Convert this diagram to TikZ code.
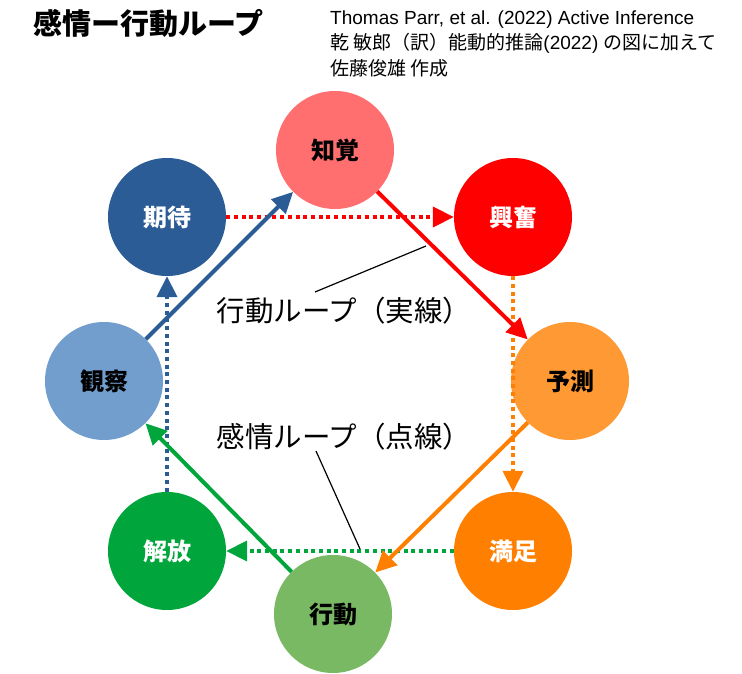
\documentclass[tikz,border=0pt]{standalone}
\usepackage{fontspec}
\setmainfont{Liberation Sans}
\newfontfamily\jp{Noto Sans CJK JP}
\usetikzlibrary{arrows.meta}
\definecolor{cChikaku}{HTML}{FF6F6F}
\definecolor{cKofun}{HTML}{FF0000}
\definecolor{cYosoku}{HTML}{FF9933}
\definecolor{cManzoku}{HTML}{FF8000}
\definecolor{cKodo}{HTML}{7AB963}
\definecolor{cKaiho}{HTML}{00A63C}
\definecolor{cKansatsu}{HTML}{729ECE}
\definecolor{cKitai}{HTML}{2C5C96}
\begin{document}
\begin{tikzpicture}[x=1pt,y=-1pt,
  stage/.style={circle, minimum size=118pt, inner sep=0pt, fill=#1,
    font=\jp\bfseries\fontsize{24}{24}\selectfont},
  solidarr/.style={draw=#1, line width=4pt,
    -{Triangle[length=21pt,width=20pt,fill=#1]}},
  dotarr/.style={draw=#1, line width=4pt, dash pattern=on 4pt off 3.7pt,
    -{Triangle[length=21pt,width=20pt,fill=#1]}},
  loopl/.style={font=\jp\fontsize{28.5}{28.5}\selectfont, inner sep=0pt},
  leader/.style={draw=black, line width=1.2pt},
  src/.style={anchor=base west, inner sep=0pt, font=\fontsize{19}{19}\selectfont}
]
\useasboundingbox (0,0) rectangle (742,674);

% title and source
\node[anchor=west, inner sep=0pt, font=\jp\bfseries\fontsize{29}{29}\selectfont] (title) at (33,23) {感情ー行動ループ};
\node[src] (src1) at (330,25) {Thomas Parr, et al. (2022) Active Inference};
\node[src] (src2) at (330,50) {{\jp 乾 敏郎（訳）能動的推論}(2022) {\jp の図に加えて}};
\node[src] (src3) at (330,76) {{\jp 佐藤俊雄 作成}};

% stages
\node[stage=cChikaku] (chikaku) at (335,150) {知覚};
\node[stage=cKofun, text=white] (kofun) at (513,217) {興奮};
\node[stage=cYosoku] (yosoku) at (570,381) {予測};
\node[stage=cManzoku, text=white] (manzoku) at (513,551) {満足};
\node[stage=cKodo] (kodo) at (333,614) {行動};
\node[stage=cKaiho, text=white] (kaiho) at (167,551) {解放};
\node[stage=cKansatsu] (kansatsu) at (104,381) {観察};
\node[stage=cKitai, text=white] (kitai) at (167,217) {期待};

% emotion loop (dotted)
\draw[dotarr=cKofun] (kitai) -- (kofun);
\draw[dotarr=cManzoku] (kofun) -- (manzoku);
\draw[dotarr=cKaiho] (manzoku) -- (kaiho);
\draw[dotarr=cKitai] (kaiho) -- (kitai);

% action loop (solid)
\draw[solidarr=cKofun] (chikaku) -- (yosoku);
\draw[solidarr=cManzoku] (yosoku) -- (kodo);
\draw[solidarr=cKaiho] (kodo) -- (kansatsu);
\draw[solidarr=cKitai] (kansatsu) -- (chikaku);

% labels
\node[loopl] (lbl1) at (344,311) {行動ループ（実線）};
\node[loopl] (lbl2) at (344,437) {感情ループ（点線）};
\coordinate (l1a) at (315,292);
\coordinate (l1b) at (426,246);
\coordinate (l2a) at (316,451);
\coordinate (l2b) at (360,549);
\draw[leader] (l1a) -- (l1b);
\draw[leader] (l2a) -- (l2b);
\end{tikzpicture}
\end{document}
